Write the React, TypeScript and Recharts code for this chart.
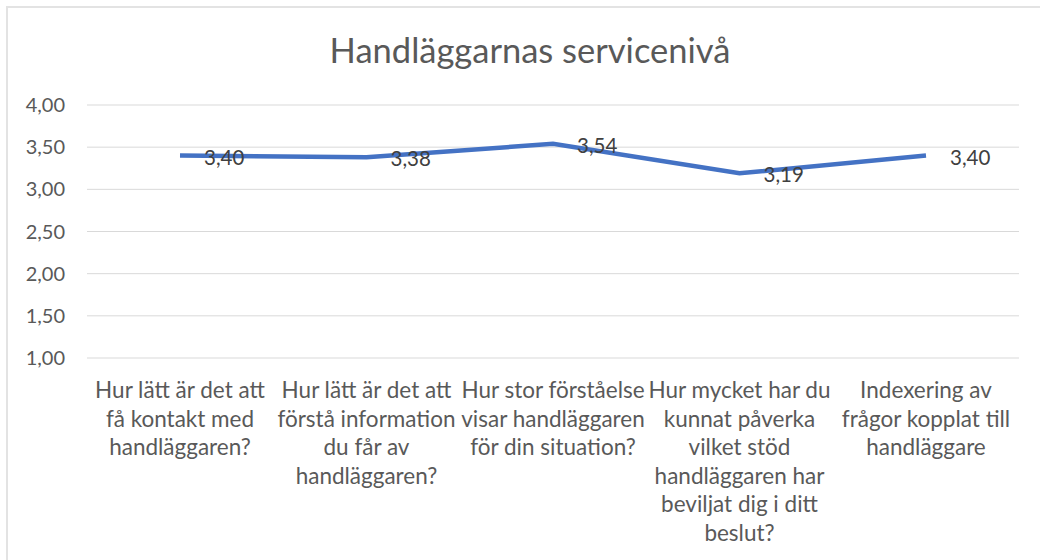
import React from "react";
import { LineChart, Line, XAxis, YAxis, CartesianGrid } from "recharts";

const categories = [
	"Hur lätt är det att\nfå kontakt med\nhandläggaren?",
	"Hur lätt är det att\nförstå information\ndu får av\nhandläggaren?",
	"Hur stor förståelse\nvisar handläggaren\nför din situation?",
	"Hur mycket har du\nkunnat påverka\nvilket stöd\nhandläggaren har\nbeviljat dig i ditt\nbeslut?",
	"Indexering av\nfrågor kopplat till\nhandläggare",
];
const values = [3.4, 3.38, 3.54, 3.19, 3.4];
const yTicks = [1, 1.5, 2, 2.5, 3, 3.5, 4];

const FONT = "Lato, 'Open Sans', sans-serif";
const TEXT_COLOR = "#595959";
const LINE_COLOR = "#4472C4";

const data = categories.map((name, i) => ({ name, value: values[i] }));

const fmt = (v: number) => v.toFixed(2).replace(".", ",");

function CategoryTick({ x, y, payload }: any) {
	const lines = String(payload.value).split("\n");
	return (
		<text x={x} y={y + 40} textAnchor="middle" fill={TEXT_COLOR} fontSize={22.5} fontFamily={FONT}>
			{lines.map((line, i) => (
				<tspan key={i} x={x} dy={i === 0 ? 0 : 28.5}>
					{line}
				</tspan>
			))}
		</text>
	);
}

function ValueLabel({ x, y, value }: any) {
	return (
		<text x={x + 24} y={y + 2} dy="0.35em" fill="#404040" fontSize={20.5} fontFamily={FONT}>
			{fmt(value)}
		</text>
	);
}

export default function App() {
	return (
		<div
			style={{
				position: "absolute",
				left: 6,
				top: 6,
				width: 1034,
				height: 554,
				borderTop: "2px solid #e3e3e3",
				borderLeft: "2px solid #e3e3e3",
				background: "#fff",
				fontFamily: FONT,
			}}
		>
			<div
				style={{
					position: "absolute",
					left: 0,
					width: 1044,
					top: 21,
					textAlign: "center",
					fontSize: 34.5,
					color: TEXT_COLOR,
				}}
			>
				Handläggarnas servicenivå
			</div>
			<LineChart
				width={1032}
				height={552}
				data={data}
				margin={{ top: 97, right: 21, left: 0, bottom: 12 }}
			>
				<CartesianGrid vertical={false} stroke="#d9d9d9" strokeWidth={1} />
				<XAxis
					dataKey="name"
					axisLine={false}
					tickLine={false}
					tickSize={0}
					tickMargin={0}
					height={190}
					interval={0}
					padding={{ left: 93, right: 93 }}
					tick={<CategoryTick />}
				/>
				<YAxis
					domain={[1, 4]}
					ticks={yTicks}
					width={79}
					axisLine={false}
					tickLine={false}
					tickSize={0}
					tickMargin={22}
					tickFormatter={fmt}
					tick={{ fill: TEXT_COLOR, fontSize: 20, fontFamily: FONT }}
				/>
				<Line
					type="linear"
					dataKey="value"
					stroke={LINE_COLOR}
					strokeWidth={4.5}
					dot={false}
					isAnimationActive={false}
					label={<ValueLabel />}
				/>
			</LineChart>
		</div>
	);
}
